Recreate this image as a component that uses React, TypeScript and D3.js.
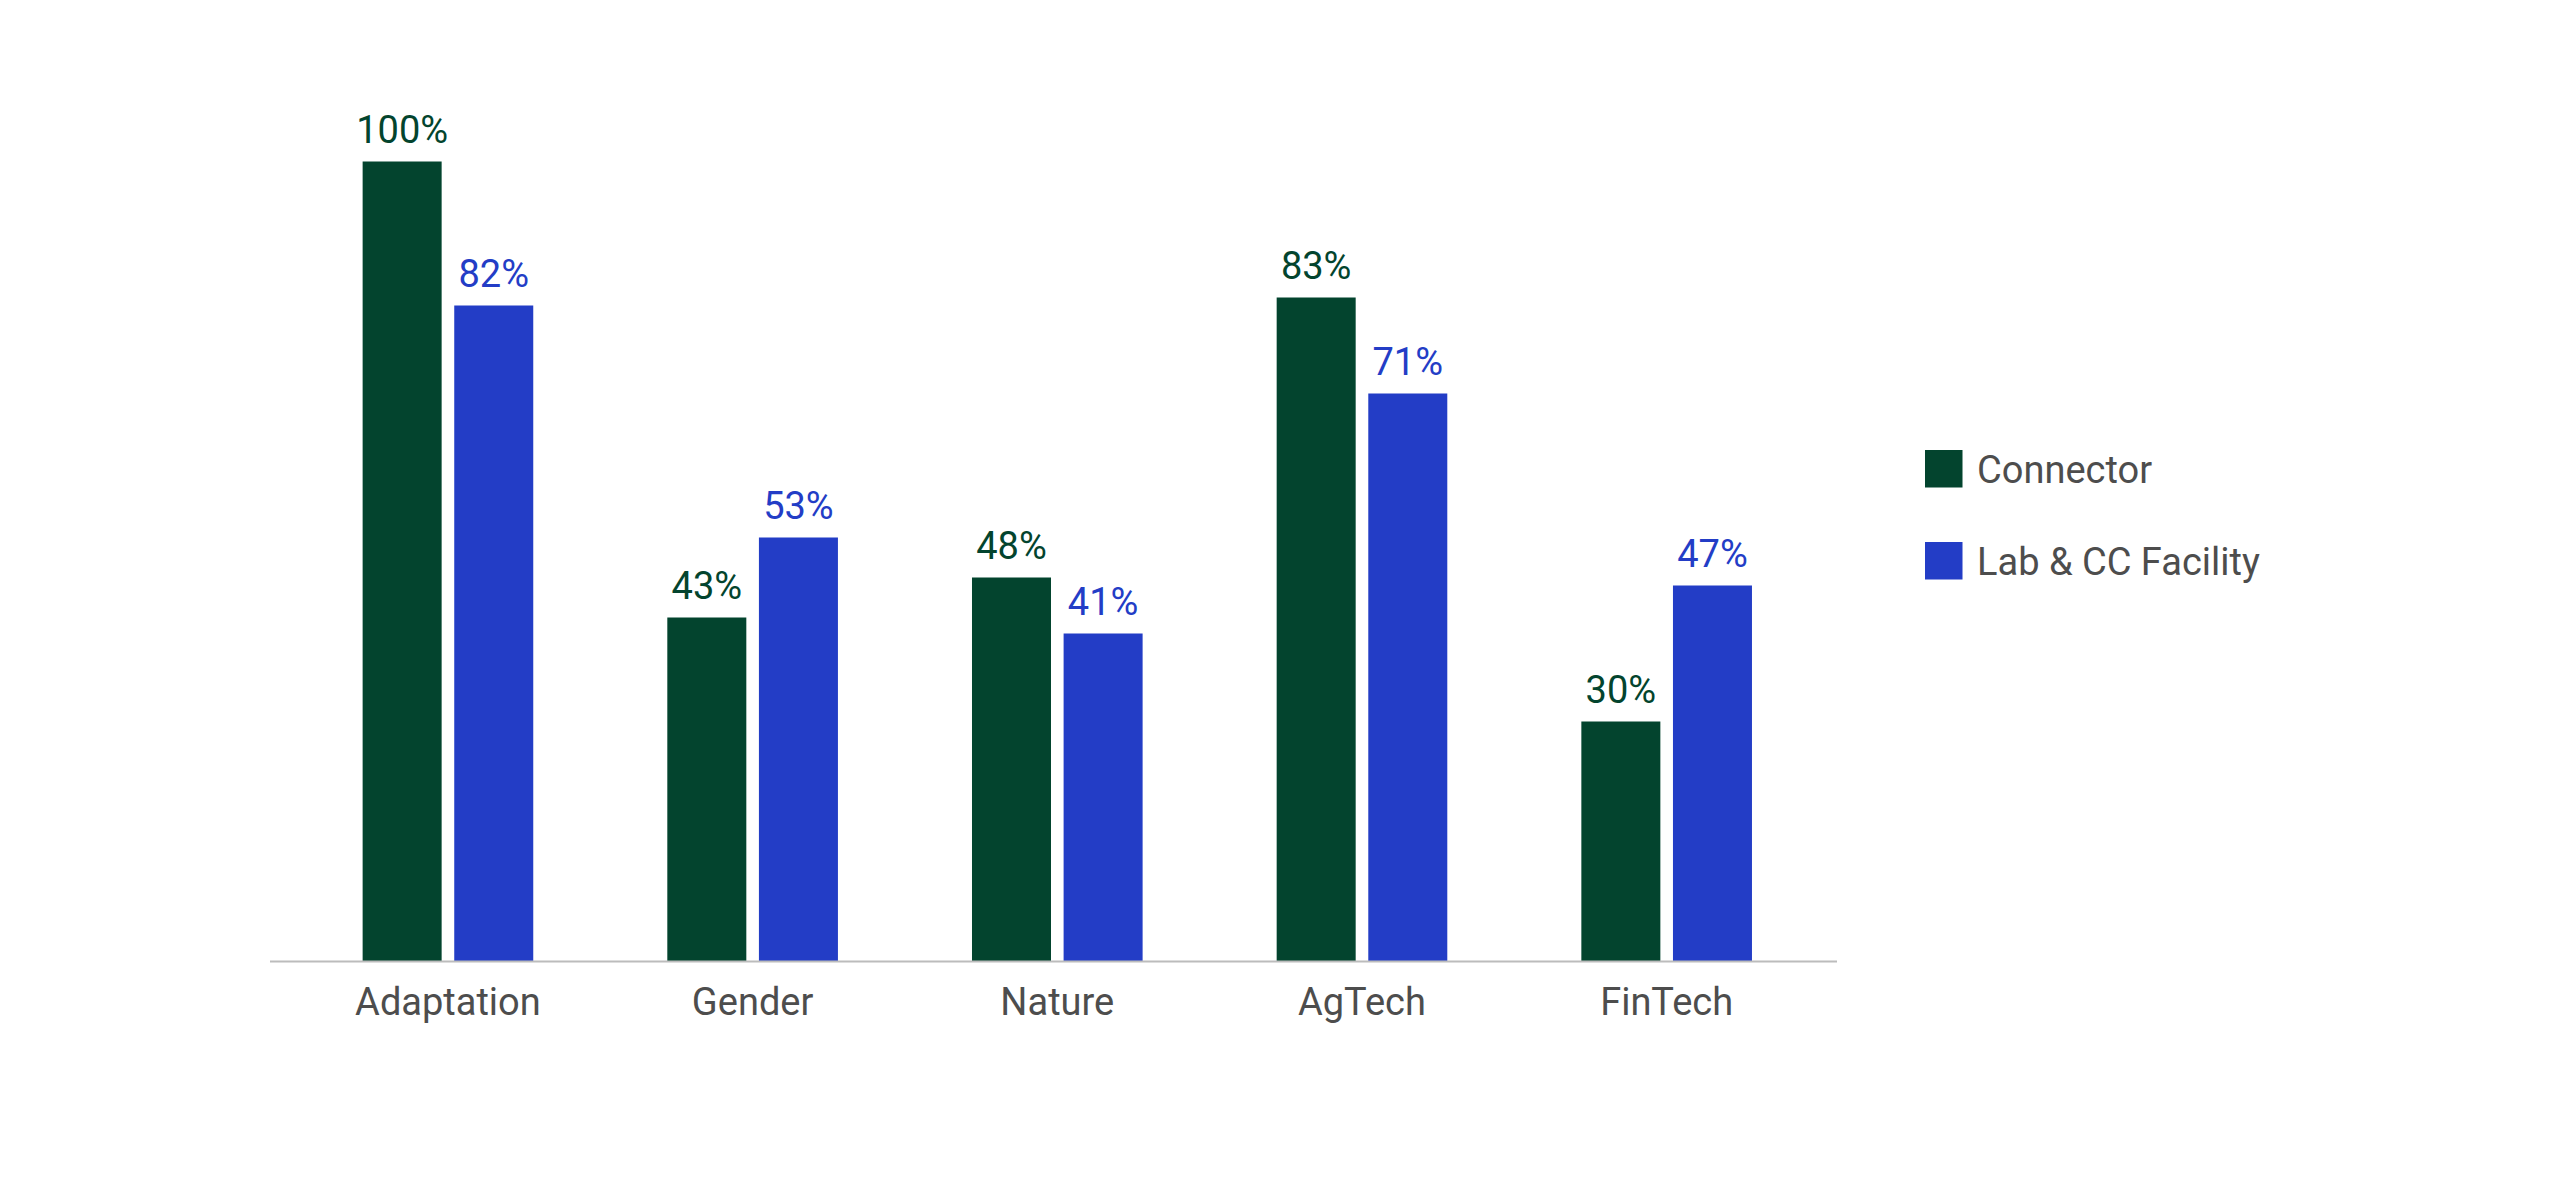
import React from "react";
import * as d3 from "d3";

const categories = ["Adaptation", "Gender", "Nature", "AgTech", "FinTech"];
const seriesNames = ["Connector", "Lab & CC Facility"];
const connectorValues = [100, 43, 48, 83, 30];
const labValues = [82, 53, 41, 71, 47];
const seriesColors = ["#03442e", "#233dc6"];

const W = 2550;
const H = 1188;
const FONT = "Roboto, 'Noto Sans', sans-serif";

export default function App() {
  const x0 = d3
    .scaleBand<string>()
    .domain(categories)
    .range([295.6, 1819])
    .paddingInner(0.44)
    .paddingOuter(0.22);
  const x1 = d3
    .scaleBand<string>()
    .domain(seriesNames)
    .range([0, x0.bandwidth()])
    .paddingInner(0.1376)
    .paddingOuter(0);
  const y = d3.scaleLinear().domain([0, 100]).range([961.5, 161.5]);

  const values = [connectorValues, labValues];

  return (
    <svg
      width={W}
      height={H}
      style={{ position: "absolute", left: 0, top: 0, background: "#fff" }}
      fontFamily={FONT}
    >
      <rect x={0} y={0} width={W} height={H} fill="#fff" />
      {categories.map((c, i) => (
        <g key={c} transform={`translate(${x0(c)},0)`}>
          {seriesNames.map((s, j) => {
            const v = values[j][i];
            const bx = x1(s)!;
            return (
              <g key={s}>
                <rect
                  x={bx}
                  y={y(v)}
                  width={x1.bandwidth()}
                  height={y(0) - y(v)}
                  fill={seriesColors[j]}
                />
                <text
                  x={bx + x1.bandwidth() / 2}
                  y={y(v) - 19}
                  textAnchor="middle"
                  fontSize={38}
                  fill={seriesColors[j]}
                >
                  {`${v}%`}
                </text>
              </g>
            );
          })}
          <text
            x={x0.bandwidth() / 2}
            y={1015}
            textAnchor="middle"
            fontSize={38}
            fill="#4d4d4d"
          >
            {c}
          </text>
        </g>
      ))}
      <line x1={270} x2={1837} y1={961.5} y2={961.5} stroke="#bcbcbc" strokeWidth={2} />
      {seriesNames.map((s, j) => (
        <g key={s} transform={`translate(1925,${450 + j * 92})`}>
          <rect x={0} y={0} width={37.5} height={37.5} fill={seriesColors[j]} />
          <text x={52} y={33} fontSize={38} fill="#4d4d4d">
            {s}
          </text>
        </g>
      ))}
    </svg>
  );
}
